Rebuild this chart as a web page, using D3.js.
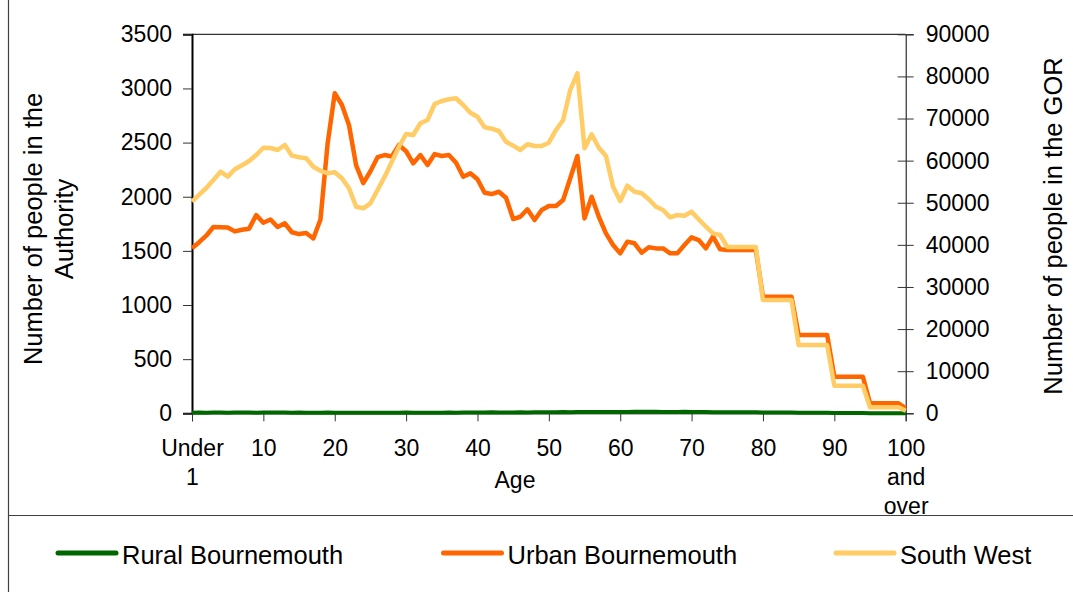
<!DOCTYPE html>
<html>
    <head>
        <title>age_profile</title>
        <script src="https://cdn.jsdelivr.net/npm/d3@7/dist/d3.min.js"></script>
    </head>
    <body style="margin: 0">
    <svg width="1073" height="592" id="mainsvg" style="background-color: #ffffff; display: block;"></svg>

    <script>
        // one value per single year of age, 0 ("Under 1") .. 100 ("100 and over")
        const rural = [
            6, 7, 6, 8, 7, 6, 7, 8, 7, 6,
            7, 8, 7, 7, 6, 7, 6, 5, 6, 7,
            6, 5, 6, 5, 5, 6, 5, 6, 5, 6,
            7, 6, 6, 5, 6, 6, 7, 6, 7, 8,
            7, 8, 9, 8, 7, 8, 9, 8, 9, 10,
            9, 10, 11, 10, 12, 11, 12, 11, 12, 13,
            12, 13, 14, 15, 14, 15, 13, 12, 13, 14,
            12, 11, 12, 10, 9, 9, 9, 9, 9, 9,
            7, 7, 7, 7, 7, 5, 5, 5, 5, 5,
            3, 3, 3, 3, 3, 1, 1, 1, 1, 1,
            0
        ];
        const urban = [
            1525, 1580, 1640, 1720, 1718, 1715, 1680, 1695, 1705, 1830,
            1760, 1790, 1720, 1755, 1672, 1655, 1665, 1615, 1790, 2490,
            2955, 2850, 2660, 2290, 2125, 2235, 2365, 2385, 2372, 2478,
            2420, 2308, 2385, 2293, 2394, 2376, 2385, 2314, 2185, 2216,
            2161, 2037, 2025, 2046, 1990, 1794, 1815, 1884, 1785, 1877,
            1914, 1914, 1970, 2170, 2376, 1800, 2000, 1815, 1662, 1554,
            1477, 1585, 1570, 1483, 1533, 1523, 1523, 1477, 1477, 1554,
            1625, 1600, 1523, 1631, 1514, 1508, 1508, 1508, 1508, 1508,
            1077, 1077, 1077, 1077, 1077, 723, 723, 723, 723, 723,
            338, 338, 338, 338, 338, 92, 92, 92, 92, 92,
            46
        ];
        const southWest = [
            50250, 51900, 53500, 55400, 57380, 56190, 57940, 58890, 59910, 61340,
            63070, 63000, 62530, 63710, 61180, 60790, 60550, 58560, 57610, 57000,
            57230, 55810, 53430, 49060, 48680, 49870, 53030, 56190, 59750, 63300,
            66330, 66090, 68870, 69650, 73450, 74160, 74570, 74800, 73210, 71380,
            70430, 67920, 67590, 67040, 64500, 63550, 62530, 63880, 63480, 63480,
            64260, 67280, 69650, 76780, 80740, 62930, 66250, 63070, 61100, 53810,
            50420, 54050, 52620, 52240, 50820, 49060, 48280, 46540, 47090, 46930,
            47880, 46070, 44310, 42740, 42340, 39500, 39500, 39500, 39500, 39500,
            26900, 26900, 26900, 26900, 26900, 16200, 16200, 16200, 16200, 16200,
            6550, 6550, 6550, 6550, 6550, 1450, 1450, 1450, 1450, 1450,
            600
        ];

        const xTickValues = [0, 10, 20, 30, 40, 50, 60, 70, 80, 90, 100];
        const xTickLabels = [['Under', '1'], ['10'], ['20'], ['30'], ['40'], ['50'],
                             ['60'], ['70'], ['80'], ['90'], ['100', 'and', 'over']];
        const leftTicks = [0, 500, 1000, 1500, 2000, 2500, 3000, 3500];
        const rightTicks = [0, 10000, 20000, 30000, 40000, 50000, 60000, 70000, 80000, 90000];

        const seriesNames = ['Rural Bournemouth', 'Urban Bournemouth', 'South West'];
        const seriesColors = ['#006600', '#ff6600', '#ffcc66'];

        const svg = d3.select('#mainsvg');
        const font = '"Liberation Sans", Arial, sans-serif';
        const margin = {top: 34.3, right: 167.3, bottom: 178.7, left: 192};
        const innerWidth = 1073 - margin.left - margin.right;
        const innerHeight = 592 - margin.top - margin.bottom;

        const xScale = d3.scaleLinear().domain([0, 100]).range([0, innerWidth]);
        const yLeft = d3.scaleLinear().domain([0, 3500]).range([innerHeight, 0]);
        const yRight = d3.scaleLinear().domain([0, 90000]).range([innerHeight, 0]);

        // outer frame bits (left edge + divider above the legend)
        svg.append('line').attr('x1', 8.5).attr('x2', 8.5).attr('y1', 0).attr('y2', 592)
            .attr('stroke', '#404040').attr('stroke-width', 1.2);
        svg.append('line').attr('x1', 8.5).attr('x2', 1073).attr('y1', 515.5).attr('y2', 515.5)
            .attr('stroke', '#404040').attr('stroke-width', 1.2);

        const g = svg.append('g').attr('transform', `translate(${margin.left},${margin.top})`)
            .attr('id', 'maingroup');

        // top border of plot area
        g.append('line').attr('x1', 0).attr('x2', innerWidth).attr('y1', 0).attr('y2', 0)
            .attr('stroke', '#000').attr('stroke-width', 1);

        // left axis
        const yAxisLeft = d3.axisLeft(yLeft).tickValues(leftTicks).tickFormat(d3.format('d'))
            .tickSize(9).tickPadding(11);
        const leftG = g.append('g').call(yAxisLeft)
            .attr('font-family', font).attr('font-size', 23);
        leftG.select('.domain').attr('stroke', '#000').attr('stroke-width', 2);
        leftG.selectAll('.tick line').attr('stroke', '#333');
        leftG.selectAll('.tick text').attr('fill', '#000');

        // right axis, ticks cross the line
        const yAxisRight = d3.axisRight(yRight).tickValues(rightTicks).tickFormat(d3.format('d'))
            .tickSize(8).tickPadding(12);
        const rightG = g.append('g').attr('transform', `translate(${innerWidth},0)`).call(yAxisRight)
            .attr('font-family', font).attr('font-size', 23);
        rightG.select('.domain').attr('stroke', '#000').attr('stroke-width', 1);
        rightG.selectAll('.tick line').attr('x1', -8).attr('stroke', '#333');
        rightG.selectAll('.tick text').attr('fill', '#000');

        // x axis
        const xAxis = d3.axisBottom(xScale).tickValues(xTickValues).tickSize(8).tickFormat('');
        const xG = g.append('g').attr('transform', `translate(0,${innerHeight})`).call(xAxis)
            .attr('font-family', font).attr('font-size', 23);
        xG.select('.domain').attr('stroke', '#000').attr('stroke-width', 1);
        xG.selectAll('.tick line').attr('stroke', '#333');
        xG.selectAll('.tick text').remove();
        xG.selectAll('.tick').each(function(d, i) {
            const t = d3.select(this).append('text')
                .attr('fill', '#000').attr('text-anchor', 'middle').attr('y', 42.5);
            xTickLabels[i].forEach((s, k) => {
                t.append('tspan').attr('x', 0).attr('dy', k === 0 ? 0 : 29).text(s);
            });
        });

        // axis titles
        g.append('text').attr('x', 515 - margin.left).attr('y', 488 - margin.top)
            .attr('text-anchor', 'middle').attr('font-family', font).attr('font-size', 23)
            .text('Age');

        const leftTitle = svg.append('text')
            .attr('transform', 'translate(41.5,229) rotate(-90)')
            .attr('text-anchor', 'middle').attr('font-family', font).attr('font-size', 25.5);
        leftTitle.append('tspan').attr('x', 0).attr('y', 0).text('Number of people in the');
        leftTitle.append('tspan').attr('x', 0).attr('y', 31.5).text('Authority');

        svg.append('text')
            .attr('transform', 'translate(1061.5,226) rotate(-90)')
            .attr('text-anchor', 'middle').attr('font-family', font).attr('font-size', 25.5)
            .text('Number of people in the GOR');

        // lines
        const lineLeft = d3.line().x((d, i) => xScale(i)).y(d => yLeft(d));
        const lineRight = d3.line().x((d, i) => xScale(i)).y(d => yRight(d));

        g.append('path').datum(rural).attr('d', lineLeft)
            .attr('fill', 'none').attr('stroke', seriesColors[0]).attr('stroke-width', 4)
            .attr('stroke-linejoin', 'round');
        g.append('path').datum(urban).attr('d', lineLeft)
            .attr('fill', 'none').attr('stroke', seriesColors[1]).attr('stroke-width', 4.5)
            .attr('stroke-linejoin', 'round');
        g.append('path').datum(southWest).attr('d', lineRight)
            .attr('fill', 'none').attr('stroke', seriesColors[2]).attr('stroke-width', 4.5)
            .attr('stroke-linejoin', 'round');

        // legend
        const legendX = [58, 443.5, 836];
        const legend = svg.selectAll('.legend').data(seriesNames).join('g')
            .attr('class', 'legend')
            .attr('transform', (d, i) => `translate(${legendX[i]},553)`);
        legend.append('line').attr('x1', 0).attr('x2', 58).attr('y1', 0).attr('y2', 0)
            .attr('stroke', (d, i) => seriesColors[i]).attr('stroke-width', 5)
            .attr('stroke-linecap', 'round');
        legend.append('text').attr('x', 64).attr('y', 11)
            .attr('font-family', font).attr('font-size', 25.5).attr('fill', '#000')
            .text(d => d);
    </script>
    </body>
</html>
